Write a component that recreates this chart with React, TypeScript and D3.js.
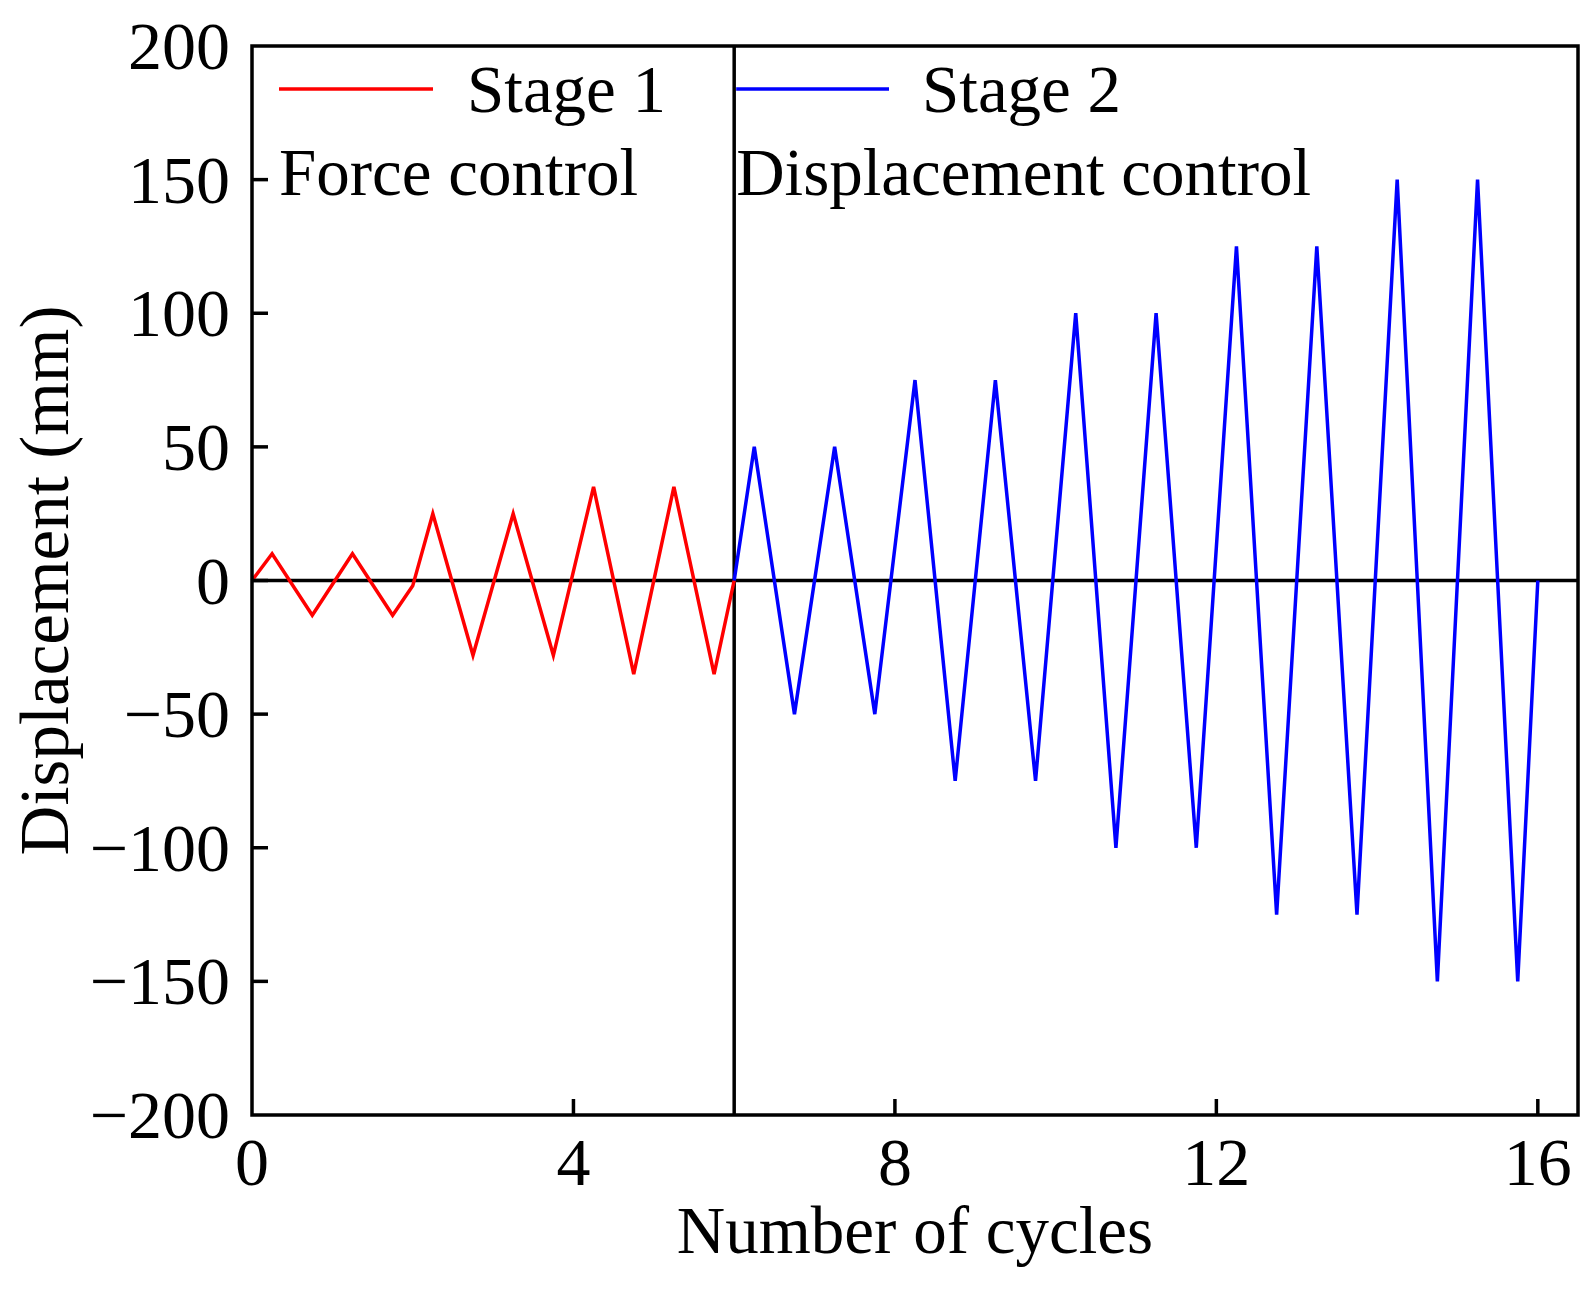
import React from "react";
import * as d3 from "d3";

// Stage 1: force control
const stage1Cycles = [0, 0.25, 0.75, 1.25, 1.75, 2, 2.25, 2.75, 3.25, 3.75, 4.25, 4.75, 5.25, 5.75, 6];
const stage1Disp = [0, 10, -13, 10, -13, -2, 25, -28, 25, -28, 35, -35, 35, -35, 0];

// Stage 2: displacement control
const stage2Cycles = [
  6, 6.25, 6.75, 7.25, 7.75, 8.25, 8.75, 9.25, 9.75, 10.25, 10.75, 11.25, 11.75,
  12.25, 12.75, 13.25, 13.75, 14.25, 14.75, 15.25, 15.75, 16,
];
const stage2Disp = [
  0, 50, -50, 50, -50, 75, -75, 75, -75, 100, -100, 100, -100,
  125, -125, 125, -125, 150, -150, 150, -150, 0,
];

const xTicks = [0, 4, 8, 12, 16];
const yTicks = [-200, -150, -100, -50, 0, 50, 100, 150, 200];
const stageBoundary = 6;

const W = 1593;
const H = 1292;
const margin = { top: 46, right: 15, bottom: 177, left: 252 };
const FONT = "'Liberation Serif', 'Times New Roman', serif";
const FS = 67;
const TICK_FS = 68;

export default function App() {
  const x = d3
    .scaleLinear()
    .domain([0, 16.5])
    .range([margin.left, W - margin.right]);
  const y = d3
    .scaleLinear()
    .domain([-200, 200])
    .range([H - margin.bottom, margin.top]);

  const line = d3
    .line<[number, number]>()
    .x((d) => x(d[0]))
    .y((d) => y(d[1]));

  const s1 = stage1Cycles.map((c, i) => [c, stage1Disp[i]] as [number, number]);
  const s2 = stage2Cycles.map((c, i) => [c, stage2Disp[i]] as [number, number]);

  const x0 = margin.left;
  const x1 = W - margin.right;
  const y0 = H - margin.bottom;
  const y1 = margin.top;
  const tickLen = 16;
  const xb = x(stageBoundary);
  const sw = 3.5;

  return (
    <svg
      width={W}
      height={H}
      style={{ position: "absolute", left: 0, top: 0, background: "#fff" }}
      fontFamily={FONT}
    >
      <rect x={0} y={0} width={W} height={H} fill="#fff" />

      {/* zero line and stage boundary */}
      <line x1={x0} x2={x1} y1={y(0)} y2={y(0)} stroke="#000" strokeWidth={sw} />
      <line x1={xb} x2={xb} y1={y1} y2={y0} stroke="#000" strokeWidth={sw} />

      {/* series */}
      <path d={line(s1) || ""} fill="none" stroke="#ff0000" strokeWidth={sw} />
      <path d={line(s2) || ""} fill="none" stroke="#0000ff" strokeWidth={sw} />

      {/* ticks */}
      {xTicks.map((t) => (
        <g key={"x" + t}>
          {t > 0 && (
            <line x1={x(t)} x2={x(t)} y1={y0} y2={y0 - tickLen} stroke="#000" strokeWidth={sw} />
          )}
          <text x={x(t)} y={y0 + 70} fontSize={TICK_FS} textAnchor="middle" fill="#000">
            {t}
          </text>
        </g>
      ))}
      {yTicks.map((t) => (
        <g key={"y" + t}>
          {t > -200 && t < 200 && (
            <line x1={x0} x2={x0 + tickLen} y1={y(t)} y2={y(t)} stroke="#000" strokeWidth={sw} />
          )}
          <text x={x0 - 22} y={y(t) + 23} fontSize={TICK_FS} textAnchor="end" fill="#000">
            {t < 0 ? "\u2212" + Math.abs(t) : t}
          </text>
        </g>
      ))}

      {/* frame */}
      <rect
        x={x0}
        y={y1}
        width={x1 - x0}
        height={y0 - y1}
        fill="none"
        stroke="#000"
        strokeWidth={sw}
      />

      {/* axis titles */}
      <text x={(x0 + x1) / 2} y={1253} fontSize={FS} textAnchor="middle" fill="#000">
        Number of cycles
      </text>
      <text
        transform={`translate(68, ${(y0 + y1) / 2}) rotate(-90)`}
        fontSize={69}
        textAnchor="middle"
        fill="#000"
      >
        Displacement (mm)
      </text>

      {/* legends / annotations */}
      <line x1={279} x2={433} y1={89} y2={89} stroke="#ff0000" strokeWidth={sw} />
      <text x={467} y={112} fontSize={FS} fill="#000">
        Stage 1
      </text>
      <text x={279} y={195} fontSize={FS} fill="#000">
        Force control
      </text>
      <line x1={xb + 2} x2={889} y1={89} y2={89} stroke="#0000ff" strokeWidth={sw} />
      <text x={922} y={112} fontSize={FS} fill="#000">
        Stage 2
      </text>
      <text x={xb + 2} y={195} fontSize={FS} fill="#000">
        Displacement control
      </text>
    </svg>
  );
}
